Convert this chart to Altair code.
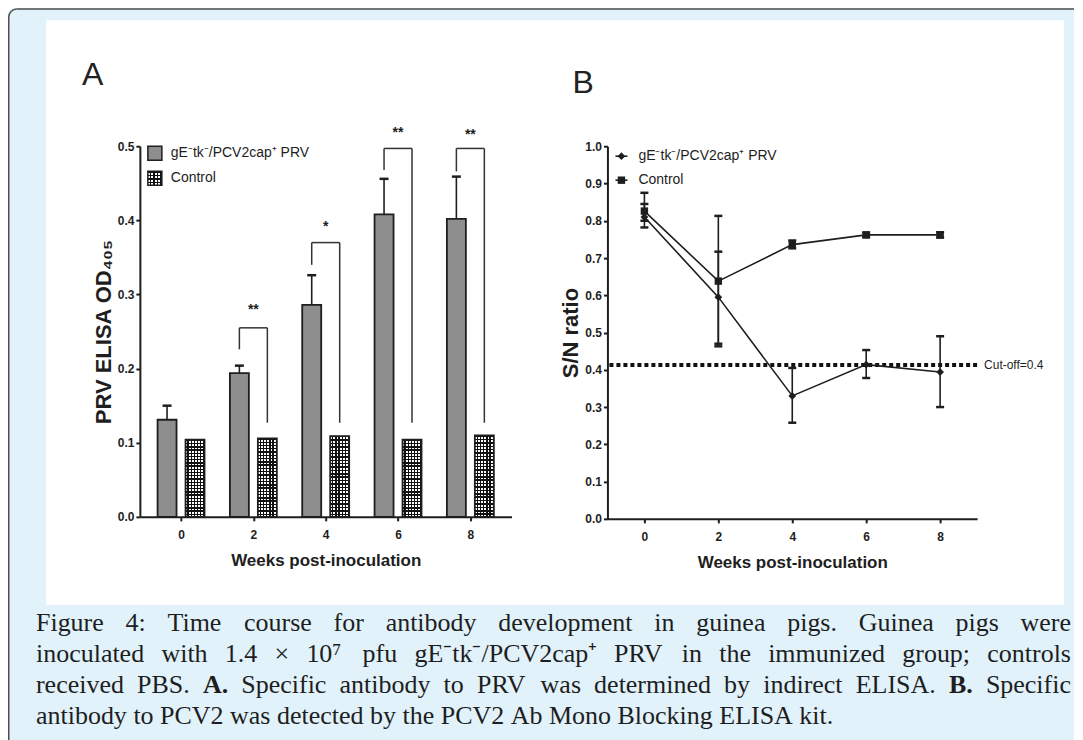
import math
import altair as alt
import pandas as pd

# ------------------------------------------------------------------ data
weeks = [0, 2, 4, 6, 8]
week_ticks = [0, 2, 4, 6, 8]
series_names = ["gE\u207btk\u207b/PCV2cap\u207a PRV", "Control"]

# Panel A (PRV ELISA OD405)
prv_od = [0.131, 0.194, 0.286, 0.408, 0.402]
prv_od_err = [0.150, 0.204, 0.326, 0.456, 0.459]
ctl_od = [0.104, 0.106, 0.109, 0.104, 0.110]
od_ticks = [0.0, 0.1, 0.2, 0.3, 0.4, 0.5]

sig_weeks = [2, 4, 6, 8]
sig_marks = ["**", "*", "**", "**"]
sig_left_low = [0.226, 0.340, 0.468, 0.466]
sig_top = [0.255, 0.370, 0.497, 0.497]
sig_right_low = [0.127, 0.127, 0.127, 0.127]
sig_text_y = [0.284, 0.396, 0.523, 0.521]

# Panel B (S/N ratio)
prv_sn = [0.810, 0.595, 0.330, 0.414, 0.394]
prv_sn_lo = [0.782, 0.470, 0.258, 0.378, 0.300]
prv_sn_hi = [0.845, 0.717, 0.405, 0.453, 0.490]
ctl_sn = [0.826, 0.638, 0.736, 0.762, 0.762]
ctl_sn_lo = [0.800, 0.463, 0.726, 0.756, 0.755]
ctl_sn_hi = [0.875, 0.813, 0.747, 0.768, 0.769]
sn_ticks = [0.0, 0.1, 0.2, 0.3, 0.4, 0.5, 0.6, 0.7, 0.8, 0.9, 1.0]
cutoff_value = [0.413]
cutoff_text = ["Cut-off=0.4"]

panel_letters = ["A", "B"]
x_title = "Weeks post-inoculation"
y_title_a = "PRV ELISA OD\u2084\u2080\u2085"
y_title_b = "S/N ratio"

caption_lines = [
    "Figure 4: Time course for antibody development in guinea pigs. Guinea pigs were",
    "inoculated with 1.4 \u00d7 10\u2077 pfu gE\u207btk\u207b/PCV2cap\u207a PRV in the immunized group; controls",
    "received PBS. A. Specific antibody to PRV was determined by indirect ELISA. B. Specific",
    "antibody to PCV2 was detected by the PCV2 Ab Mono Blocking ELISA kit.",
]
caption_bold = ["A.", "B."]

# ------------------------------------------------------------------ style / layout
SANS = "Liberation Sans Narrow, Arial Narrow, Liberation Sans, Arial, sans-serif"
SERIF = "Liberation Serif, Times New Roman, serif"
INK = "#1e1e1e"
BLUE = "#e1f2fb"
BORDER = "#4d4d4d"
CLEAR = "rgba(0,0,0,0)"
WHITE_CLEAR = "rgba(255,255,255,0)"

OX_A, OY, OX_B = 140, 146, 608
A_W, A_H = 372, 371
B_W, B_H = 370, 373
SPACING = OX_B - OX_A - A_W
LEG_SIZE = 14

ONE = pd.DataFrame({"k": [0]})


def ax(x):
    return x - OX_A


def ay(y):
    return y - OY


def bx(x):
    return x - OX_B


def vtext(x, y, text, **mk):
    return alt.Chart(ONE).mark_text(**mk).encode(
        x=alt.value(x), y=alt.value(y), text=alt.value(text))


def vrect(x, x2, y, y2, **mk):
    return alt.Chart(ONE).mark_rect(**mk).encode(
        x=alt.value(x), x2=alt.value(x2), y=alt.value(y), y2=alt.value(y2))


def vrule(x, x2, y, y2, **mk):
    return alt.Chart(ONE).mark_rule(**mk).encode(
        x=alt.value(x), x2=alt.value(x2), y=alt.value(y), y2=alt.value(y2))


def stripes(n, frac, on, off, across_x):
    stops = []
    for i in range(n):
        a, b, c = i / n, (i + frac) / n, (i + 1) / n
        stops += [alt.GradientStop(offset=a, color=on), alt.GradientStop(offset=b, color=on),
                  alt.GradientStop(offset=b, color=off), alt.GradientStop(offset=c, color=off)]
    if across_x:
        return alt.LinearGradient(gradient="linear", stops=stops, x1=0, x2=1, y1=0, y2=0)
    return alt.LinearGradient(gradient="linear", stops=stops, x1=0, x2=0, y1=0, y2=1)


def xq(title):
    return alt.X("week:Q", scale=alt.Scale(domain=[-1, 9], nice=False, zero=False),
                 axis=alt.Axis(values=week_ticks, format="d", title=title))


def yA(field):
    return alt.Y(field, type="quantitative", scale=alt.Scale(domain=[0, 0.5], nice=False),
                 axis=alt.Axis(values=od_ticks, format=".1f", title=y_title_a))


def yB(field):
    return alt.Y(field, type="quantitative", scale=alt.Scale(domain=[0, 1.0], nice=False),
                 axis=alt.Axis(values=sn_ticks, format=".1f", title=y_title_b))


# ------------------------------------------------------------------ caption layout (Times metrics)
_lower = dict(zip("abcdefghijklmnopqrstuvwxyz",
                  [444, 500, 444, 500, 444, 333, 500, 500, 278, 278, 500, 278, 778,
                   500, 500, 500, 500, 333, 389, 278, 500, 500, 722, 500, 500, 444]))
_upper = dict(zip("ABCDEFGHIJKLMNOPQRSTUVWXYZ",
                  [722, 667, 667, 722, 611, 556, 722, 722, 333, 389, 722, 611, 889,
                   722, 722, 556, 722, 667, 556, 611, 722, 722, 944, 722, 722, 611]))
_other = {".": 250, ",": 250, ":": 278, ";": 278, "/": 278, "-": 333, "\u00d7": 564,
          "\u2077": 320, "\u207b": 340, "\u207a": 340}


def char_w(c):
    if c in _lower:
        return _lower[c]
    if c in _upper:
        return _upper[c]
    if c.isdigit():
        return 500
    return _other.get(c, 500)


CAP_SIZE = 26
CAP_LEFT, CAP_RIGHT = ax(36), ax(1072)
CAP_BASE = [631, 662, 693, 724]

caption_marks = []
for li, line in enumerate(caption_lines):
    toks = line.split(" ")
    wid = [CAP_SIZE * sum(char_w(c) for c in t) / 1000.0 for t in toks]
    justified = li < len(caption_lines) - 1
    gap = (CAP_RIGHT - CAP_LEFT - sum(wid)) / (len(toks) - 1) if justified else 0.25 * CAP_SIZE
    x = CAP_LEFT
    for i, (t, w) in enumerate(zip(toks, wid)):
        px = x
        if justified and i == len(toks) - 1:
            px = CAP_RIGHT - w
        bold = (t in caption_bold) and li == 2
        caption_marks.append(vtext(px, ay(CAP_BASE[li]), t, align="left", baseline="alphabetic",
                                   font=SERIF, fontSize=CAP_SIZE, color=INK,
                                   fontWeight="bold" if bold else "normal"))
        x += w + gap

# ------------------------------------------------------------------ frame: blue band around a white figure area
F_L, F_T, F_R, F_B = ax(8), ay(8), ax(1075), ay(745)
W_L, W_T, W_R, W_B = ax(46), ay(20), ax(1065), ay(605)
frame = [
    vrect(F_L, F_R, F_T, W_T, fill=BLUE, cornerRadiusTopLeft=9),   # top band
    vrect(F_L, W_L, W_T - 1, F_B, fill=BLUE),                       # left band
    vrect(W_R, F_R, W_T - 1, F_B, fill=BLUE),                       # right band
    vrect(W_L - 1, W_R + 1, W_B, F_B, fill=BLUE),                   # bottom (caption) area
    vrule(F_L + 0.75, F_L + 0.75, F_T + 8.75, F_B, color=BORDER, strokeWidth=1.5),
    vrule(F_L + 8.75, F_R, F_T + 0.75, F_T + 0.75, color=BORDER, strokeWidth=1.5),
    alt.Chart(ONE).mark_arc(radius=8.75, radius2=7.25, theta=1.5 * math.pi, theta2=2 * math.pi,
                            color=BORDER).encode(x=alt.value(F_L + 8.75), y=alt.value(F_T + 8.75)),
]

# ------------------------------------------------------------------ panel A
dfA = pd.DataFrame({"week": weeks, "prv": prv_od, "err": prv_od_err, "ctl": ctl_od})
dfS = pd.DataFrame({"week": sig_weeks, "lo_l": sig_left_low, "top": sig_top,
                    "lo_r": sig_right_low, "ty": sig_text_y, "mark": sig_marks})
xa = xq(x_title)
BW, OFF = 19, 14
PRV_FILL = "#8e8e8e"
CHK_W_X, CHK_W_Y = 0.58, 0.58

base_a = alt.Chart(dfA)
a_layers = [
    base_a.mark_rule(xOffset=-OFF, color=INK, strokeWidth=1.6).encode(x=xa, y=yA("prv"), y2="err"),
    base_a.mark_tick(orient="horizontal", size=9, thickness=2.5, xOffset=-OFF, color=INK, opacity=1).encode(x=xa, y=yA("err")),
    base_a.mark_bar(width=BW, xOffset=-OFF, fill=PRV_FILL, stroke=INK, strokeWidth=1.8).encode(x=xa, y=yA("prv")),
    base_a.mark_bar(width=BW, xOffset=OFF, fill="#111111").encode(x=xa, y=yA("ctl")),
    base_a.mark_bar(width=BW, xOffset=OFF, fill=stripes(6, CHK_W_X, "#ffffff", WHITE_CLEAR, True)).encode(x=xa, y=yA("ctl")),
    base_a.mark_bar(width=BW, xOffset=OFF, fill=stripes(24, 1 - CHK_W_Y, "#111111", CLEAR, False),
                    stroke=INK, strokeWidth=1.8).encode(x=xa, y=yA("ctl")),
    alt.Chart(dfS).mark_rule(xOffset=-OFF, color="#333333", strokeWidth=1.5).encode(x=xa, y=yA("lo_l"), y2="top"),
    alt.Chart(dfS).mark_rule(xOffset=OFF, color="#333333", strokeWidth=1.5).encode(x=xa, y=yA("lo_r"), y2="top"),
    alt.Chart(dfS).mark_rule(xOffset=-OFF, x2Offset=OFF, color="#333333", strokeWidth=1.5).encode(
        x=xa, x2=alt.X2("week"), y=yA("top")),
    alt.Chart(dfS).mark_text(font=SANS, fontSize=14, fontWeight="bold", baseline="alphabetic", dy=8,
                             color=INK).encode(x=xa, y=yA("ty"), text="mark:N"),
] + frame + [
    # legend A
    vrect(8, 22, 0, 14, fill=PRV_FILL, stroke=INK, strokeWidth=1.5),
    vrect(8, 22, 25, 39, fill="#111111"),
    vrect(8, 22, 25, 39, fill=stripes(4, CHK_W_X, "#ffffff", WHITE_CLEAR, True)),
    vrect(8, 22, 25, 39, fill=stripes(4, 1 - CHK_W_Y, "#111111", CLEAR, False), stroke=INK, strokeWidth=1.5),
    vtext(31, 7, series_names[0], font=SANS, fontSize=LEG_SIZE, baseline="middle", align="left", color=INK),
    vtext(31, 32, series_names[1], font=SANS, fontSize=LEG_SIZE, baseline="middle", align="left", color=INK),
    vtext(ax(82), ay(85), panel_letters[0], font=SANS, fontSize=32, baseline="alphabetic", align="left", color="#222222"),
] + caption_marks
panel_a = alt.layer(*a_layers).properties(width=A_W, height=A_H)

# ------------------------------------------------------------------ panel B
dfB = pd.DataFrame({"week": weeks, "prv": prv_sn, "prv_lo": prv_sn_lo, "prv_hi": prv_sn_hi,
                    "ctl": ctl_sn, "ctl_lo": ctl_sn_lo, "ctl_hi": ctl_sn_hi})
dfC = pd.DataFrame({"sn": cutoff_value, "label": cutoff_text})
xb = xq(x_title)
base_b = alt.Chart(dfB)
LINE_W = 1.6

b_layers = [
    alt.Chart(dfC).mark_rule(strokeDash=[4, 3], strokeWidth=4, color="#111111").encode(y=yB("sn")),
    alt.Chart(dfC).mark_text(font=SANS, fontSize=12, align="left", baseline="middle", color=INK).encode(
        x=alt.value(bx(985)), y=yB("sn"), text="label:N"),
]
for s in ["prv", "ctl"]:
    b_layers += [
        base_b.mark_rule(color=INK, strokeWidth=1.6).encode(x=xb, y=yB(s + "_lo"), y2=s + "_hi"),
        base_b.mark_tick(orient="horizontal", size=8, thickness=2.5, color=INK, opacity=1).encode(x=xb, y=yB(s + "_lo")),
        base_b.mark_tick(orient="horizontal", size=8, thickness=2.5, color=INK, opacity=1).encode(x=xb, y=yB(s + "_hi")),
        base_b.mark_line(color=INK, strokeWidth=LINE_W).encode(x=xb, y=yB(s)),
    ]
b_layers += [
    base_b.mark_point(shape="diamond", filled=True, size=60, color=INK, opacity=1).encode(x=xb, y=yB("prv")),
    base_b.mark_point(shape="square", filled=True, size=55, color=INK, opacity=1).encode(x=xb, y=yB("ctl")),
    # legend B
    vrule(8, 20, 10, 10, color=INK, strokeWidth=LINE_W),
    alt.Chart(ONE).mark_point(shape="diamond", filled=True, size=60, color=INK, opacity=1).encode(
        x=alt.value(14), y=alt.value(10)),
    vrule(8, 20, 34, 34, color=INK, strokeWidth=LINE_W),
    alt.Chart(ONE).mark_point(shape="square", filled=True, size=55, color=INK, opacity=1).encode(
        x=alt.value(14), y=alt.value(34)),
    vtext(31, 10, series_names[0], font=SANS, fontSize=LEG_SIZE, baseline="middle", align="left", color=INK),
    vtext(31, 34, series_names[1], font=SANS, fontSize=LEG_SIZE, baseline="middle", align="left", color=INK),
    vtext(bx(573), ay(93), panel_letters[1], font=SANS, fontSize=32, baseline="alphabetic", align="left", color="#222222"),
]
panel_b = alt.layer(*b_layers).properties(width=B_W, height=B_H)

# ------------------------------------------------------------------ compose
chart = alt.hconcat(panel_a, panel_b, spacing=SPACING, bounds="flush").properties(
    padding=0, background="white"
).configure_view(stroke=None).configure_axis(
    domainColor=INK, domainWidth=2, tickColor=INK, tickWidth=2, tickSize=4, grid=False,
    labelFont=SANS, labelFontSize=12, labelFontWeight="bold", labelColor=INK,
    titleFont=SANS, titleFontWeight="bold", titleColor=INK,
).configure_axisX(labelPadding=9, titlePadding=12, titleFontSize=17).configure_axisY(
    labelPadding=2, titlePadding=2, titleFontSize=22)

chart.save("out.html", embed_options={"renderer": "svg", "actions": False})
